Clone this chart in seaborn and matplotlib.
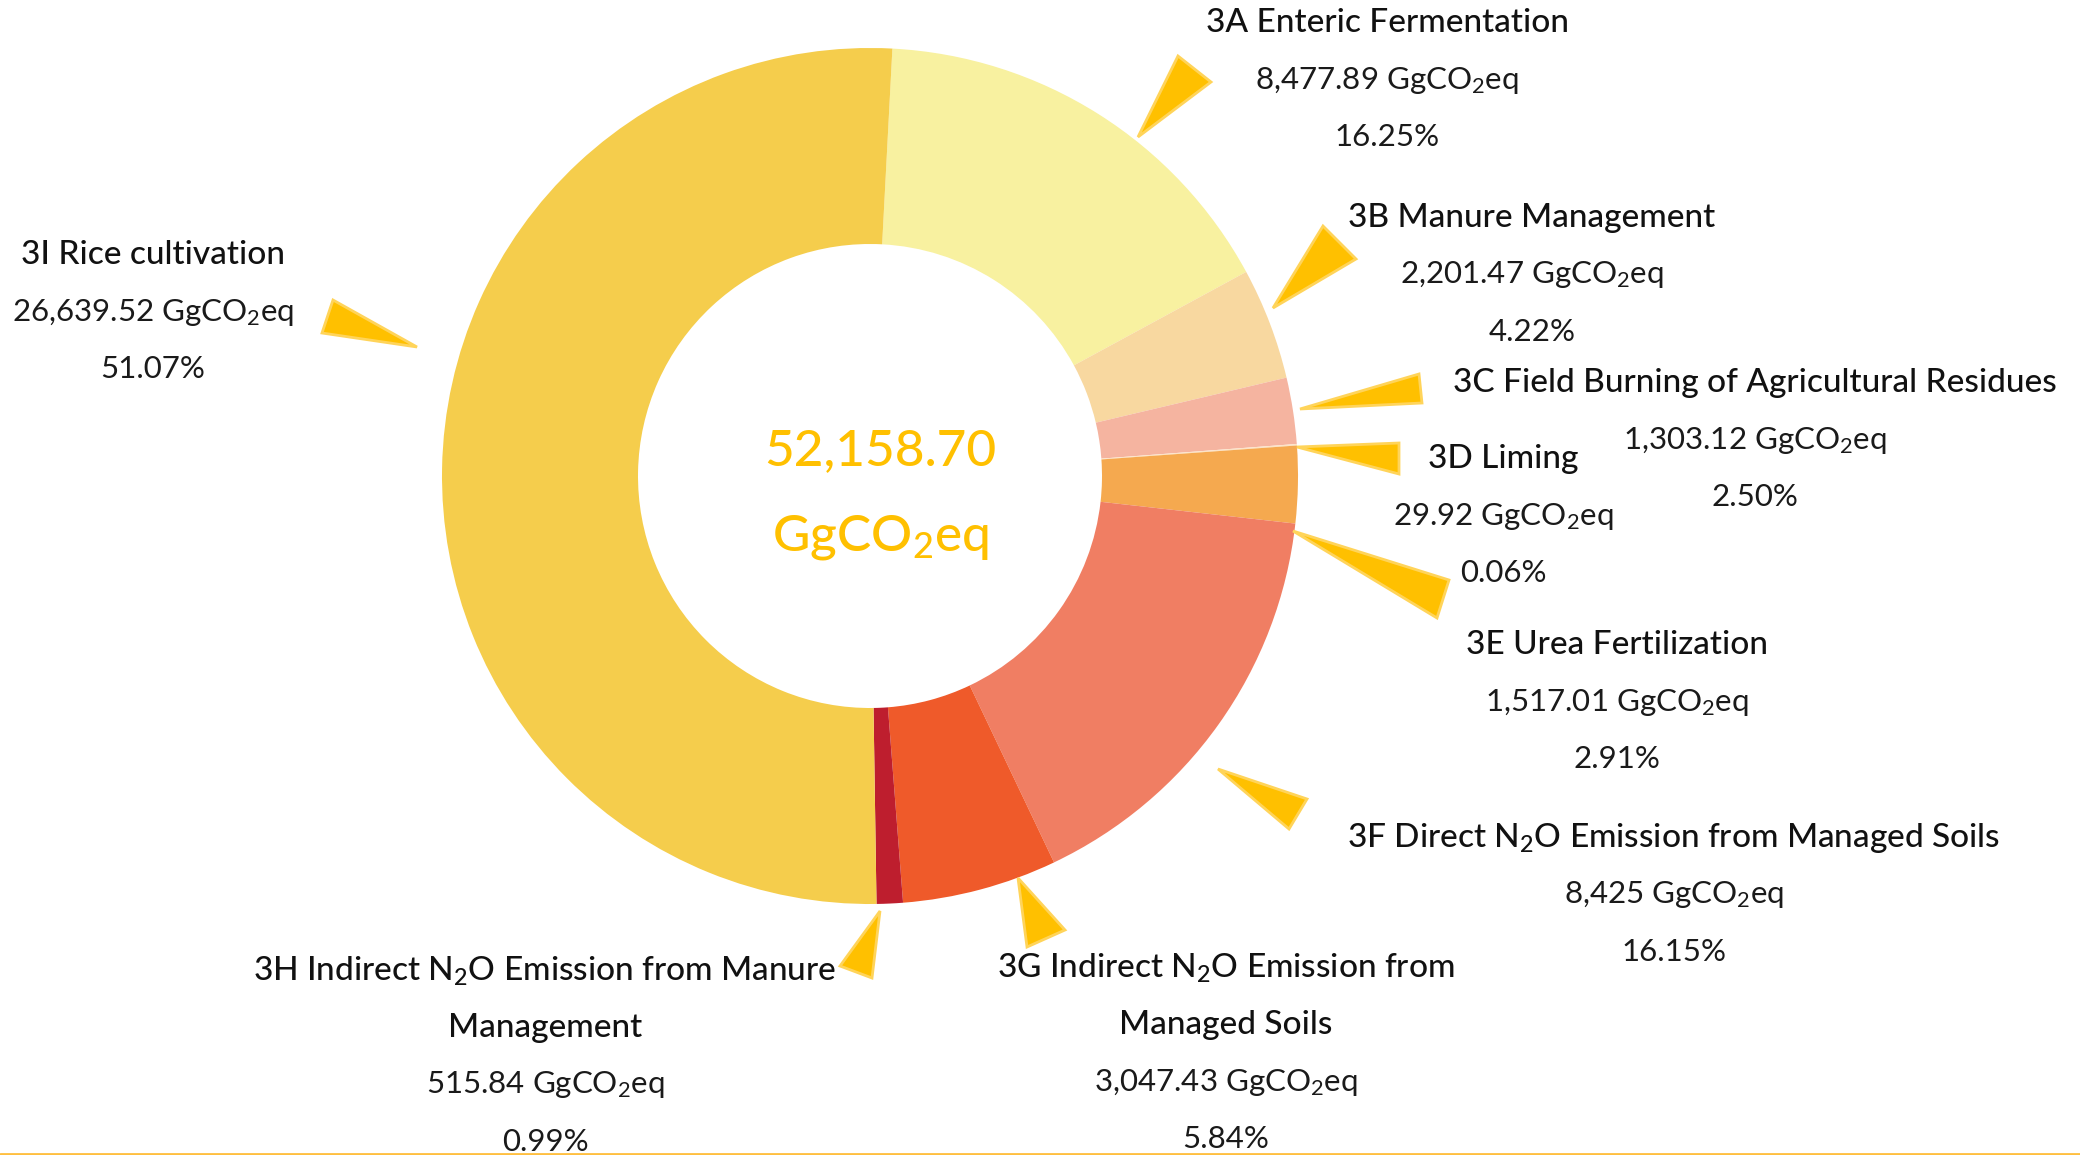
"""
Donut chart of agriculture sector GHG emissions (GgCO2eq) by source category,
with callout labels and gold pointer triangles.
"""

import seaborn as sns
import matplotlib.pyplot as plt
from matplotlib.patches import Polygon

# data
codes = ['3A', '3B', '3C', '3D', '3E', '3F', '3G', '3H', '3I']
names = ['Enteric Fermentation',
         'Manure Management',
         'Field Burning of Agricultural Residues',
         'Liming',
         'Urea Fertilization',
         'Direct N$_2$O Emission from Managed Soils',
         'Indirect N$_2$O Emission from\nManaged Soils',
         'Indirect N$_2$O Emission from Manure\nManagement',
         'Rice cultivation']
emissions = [8477.89, 2201.47, 1303.12, 29.92, 1517.01, 8425, 3047.43, 515.84, 26639.52]
shares = [16.25, 4.22, 2.50, 0.06, 2.91, 16.15, 5.84, 0.99, 51.07]
total = 52158.70
colors = ['#F8F1A0', '#F8D8A0', '#F5B4A0', '#FCE3C6', '#F5A94F',
          '#F07E63', '#EF5A2A', '#BE1E2E', '#F5CD4C']

# layout (pixel coords of the 2080x1155 canvas, y down)
center = (870, 476)
outer_r = 428
ring_w = 196
label_pos = [(1387, 23), (1532, 218), (1755, 383), (1503, 459), (1617, 645),
             (1674, 838), (1226, 968), (545, 971), (153, 255)]
line_gap = 57
pointers = [[(1178, 56), (1211, 82), (1138, 137)],
            [(1323, 226), (1356, 259), (1273, 308)],
            [(1419, 374), (1422, 403), (1300, 409)],
            [(1399, 443), (1399, 474), (1297, 447)],
            [(1293, 531), (1449, 580), (1437, 618)],
            [(1218, 769), (1307, 799), (1289, 829)],
            [(1018, 878), (1065, 930), (1027, 947)],
            [(880, 911), (872, 978), (840, 966)],
            [(333, 300), (322, 333), (417, 347)]]


def fmt_value(v):
    """Format emission values the way the source chart shows them"""
    if isinstance(v, int):
        return '{:,}'.format(v)
    return '{:,.2f}'.format(v)


def main():
    sns.set_style("white")
    plt.rcParams['font.family'] = ['Lato', 'DejaVu Sans']
    plt.rcParams['mathtext.default'] = 'regular'

    fig = plt.figure(figsize=(20.8, 11.55), dpi=100)
    ax = fig.add_axes([0, 0, 1, 1])

    # donut (y axis is inverted below, so counterclock here draws clockwise on screen)
    ax.pie(emissions, colors=colors, startangle=-87, counterclock=True,
           radius=outer_r, center=center,
           wedgeprops=dict(width=ring_w, edgecolor='none', antialiased=True))
    ax.set_xlim(0, 2080)
    ax.set_ylim(1155, 0)
    ax.set_aspect('equal')
    ax.axis('off')

    # pointer triangles
    for tri in pointers:
        ax.add_patch(Polygon(tri, closed=True, facecolor='#FFC000',
                             edgecolor='#FFD45A', linewidth=2, zorder=3))

    # callout labels
    for code, name, v, pct, (x, y) in zip(codes, names, emissions, shares, label_pos):
        lines = (code + ' ' + name).split('\n')
        for i, line in enumerate(lines):
            ax.text(x, y + i * line_gap, line, ha='center', va='center',
                    fontsize=24, color='#111111', fontweight='medium')
        y2 = y + len(lines) * line_gap
        ax.text(x, y2, fmt_value(v) + ' GgCO$_2$eq', ha='center', va='center',
                fontsize=22.5, color='#1a1a1a', fontweight='normal')
        ax.text(x, y2 + line_gap, '{:.2f}%'.format(pct), ha='center', va='center',
                fontsize=22.5, color='#1a1a1a', fontweight='normal')

    # total in the middle
    ax.text(center[0] + 10, 451, '{:,.2f}'.format(total), ha='center', va='center',
            fontsize=37, color='#FFC000', fontweight='medium')
    ax.text(center[0] + 10, 537, 'GgCO$_2$eq', ha='center', va='center',
            fontsize=37, color='#FFC000', fontweight='medium')

    # thin gold rule along the bottom edge
    ax.axhline(1153.5, color='#FFBF3F', linewidth=2)

    fig.savefig('out.png', dpi=100, facecolor='white')
    plt.close()


main()
